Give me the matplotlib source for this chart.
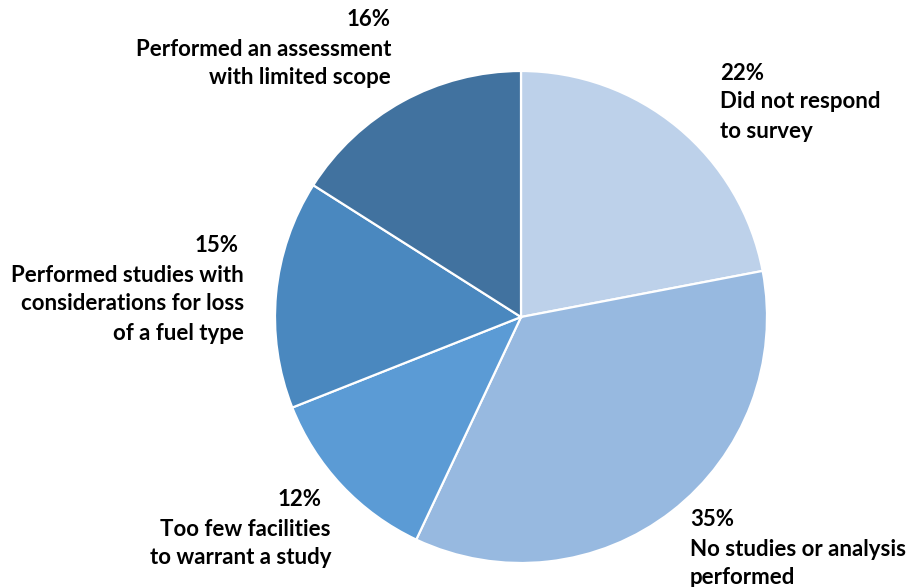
import matplotlib.pyplot as plt

# Share of respondents by type of study performed
shares = [22, 35, 12, 15, 16]
labels = [
    ["Did not respond", "to survey"],
    ["No studies or analysis", "performed"],
    ["Too few facilities", "to warrant a study"],
    ["Performed studies with", "considerations for loss", "of a fuel type"],
    ["Performed an assessment", "with limited scope"],
]
colors = ["#BDD1EA", "#97B9E0", "#5B9BD5", "#4A88BF", "#41729F"]

W, H = 908, 587
fig = plt.figure(figsize=(W / 100, H / 100), dpi=100)
ax = fig.add_axes([0, 0, 1, 1])

ax.pie(shares, colors=colors, startangle=90, counterclock=False,
       center=(521, H - 317), radius=246, frame=True,
       wedgeprops=dict(edgecolor="white", linewidth=1.6))
ax.set_xlim(0, W)
ax.set_ylim(0, H)
ax.set_aspect("equal")
ax.axis("off")

# label anchors: (x of percent, y of percent, x of text, alignment)
anchors = [
    (720, 73, 720, "left"),
    (690, 520, 690, "left"),
    (322, 500, 331, "right"),
    (239, 246, 244, "right"),
    (391, 20, 391, "right"),
]
font = dict(family="Lato", fontsize=16, fontweight="bold", color="black")
step = 29
for val, lines, (px, py, tx, ha) in zip(shares, labels, anchors):
    ax.text(px, H - py, "{}%".format(val), ha=ha, va="center", **font)
    for k, line in enumerate(lines):
        ax.text(tx, H - (py + step * (k + 1)), line, ha=ha, va="center", **font)

fig.savefig("out.png", dpi=100)
